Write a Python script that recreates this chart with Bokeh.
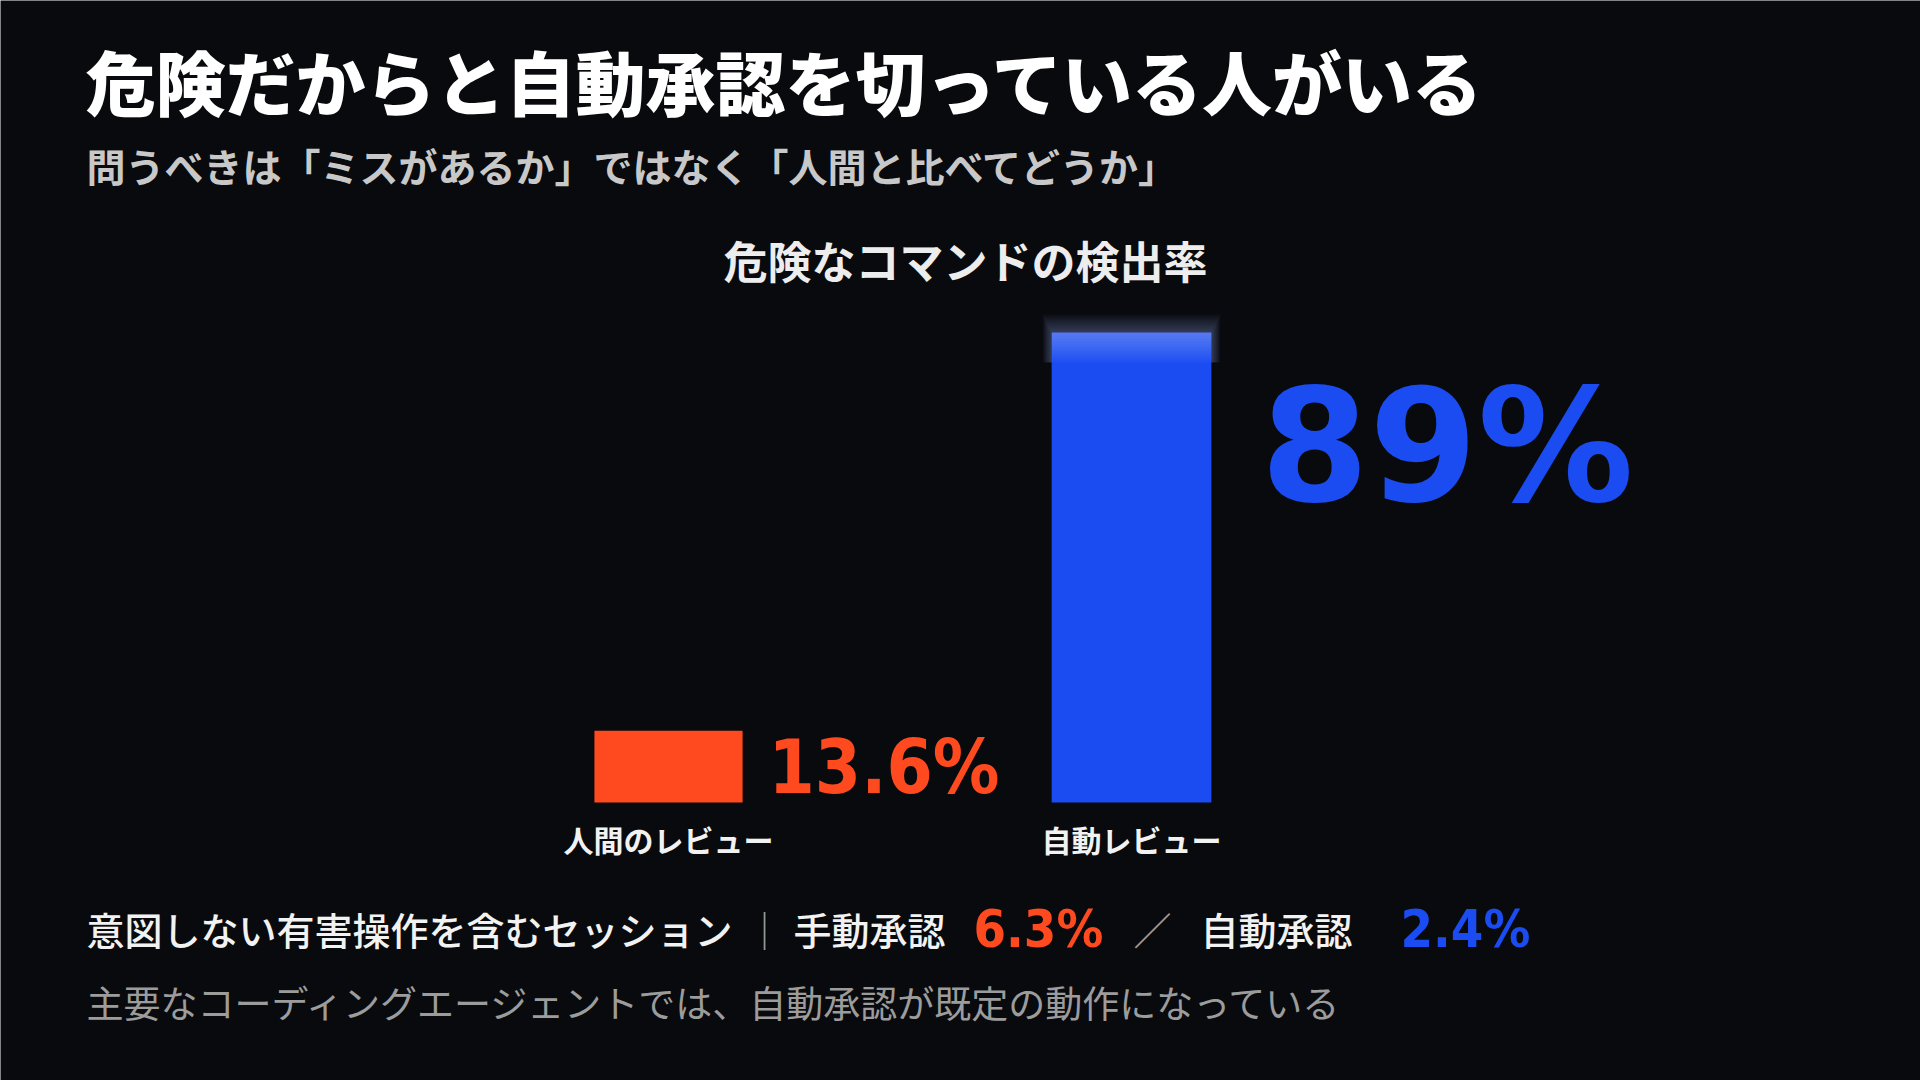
from bokeh.plotting import figure
from bokeh.models import Range1d, Label, ColumnDataSource
from bokeh.core.properties import value
from bokeh.embed import file_html
from bokeh.resources import INLINE

# ---------------- data ----------------
title_text = "危険だからと自動承認を切っている人がいる"
subtitle_text = "問うべきは「ミスがあるか」ではなく「人間と比べてどうか」"
chart_title = "危険なコマンドの検出率"
categories = ["人間のレビュー", "自動レビュー"]
detection_rate = [13.6, 89.0]
rate_labels = ["13.6%", "89%"]
session_caption = "意図しない有害操作を含むセッション"
session_modes = ["手動承認", "自動承認"]
session_rate = [6.3, 2.4]
session_rate_labels = ["6.3%", "2.4%"]
footnote_text = "主要なコーディングエージェントでは、自動承認が既定の動作になっている"

# ---------------- style ----------------
W, H = 1920, 1080
BG = "#090a0d"
ORANGE = "#ff4a1f"
BLUE = "#1a4cf2"
PX_PER_UNIT_X = 463.0
PX_PER_PCT = 5.281

JP = "'Noto Sans CJK JP'"
JP_BLACK = "'Noto Sans CJK JP Black', 'Noto Sans CJK JP'"
JP_MED = "'Noto Sans CJK JP Medium', 'Noto Sans CJK JP'"
NUM = "'DejaVu Sans'"
NUM_C = "'DejaVu Sans Condensed', 'DejaVu Sans'"

x_idx = list(range(len(categories)))
bar_widths = [0.32, 0.345]
bar_colors = [ORANGE, BLUE]

p = figure(width=W, height=H, output_backend="svg", toolbar_location=None,
           x_range=Range1d(-1.4428, 2.7041), y_range=Range1d(-52.64, 151.86),
           x_axis_type=None, y_axis_type=None, min_border=0,
           background_fill_color=BG, border_fill_color=BG, outline_line_color=None)
p.grid.visible = False

# soft glow above the automatic-review bar
for k in range(1, 10):
    grow = 2 * k
    p.vbar(x=[x_idx[1]], top=[detection_rate[1] + grow / PX_PER_PCT],
           bottom=[detection_rate[1] - 30 / PX_PER_PCT],
           width=bar_widths[1] + 2 * grow * 0.5 / PX_PER_UNIT_X,
           fill_color="#9fbcff", fill_alpha=0.04, line_color=None)

src = ColumnDataSource(dict(x=x_idx, top=detection_rate, w=bar_widths, c=bar_colors,
                            cat=categories, lab=rate_labels))
p.vbar(x="x", top="top", bottom=0, width="w", fill_color="c", line_color=None, source=src)

# light gradient band at top of the blue bar
for k in range(1, 11):
    depth = 3 * k
    p.vbar(x=[x_idx[1]], top=[detection_rate[1]],
           bottom=[detection_rate[1] - depth / PX_PER_PCT],
           width=bar_widths[1], fill_color="#ffffff", fill_alpha=0.03, line_color=None)

# category labels
p.text(x="x", y=0, text="cat", source=src, y_offset=37, text_align="center",
       text_baseline="middle", text_color="#f2f2f2", text_font=value(JP),
       text_font_style="bold", text_font_size="30px")

# value labels
p.text(x=[x_idx[0]], y=[detection_rate[0]], text=[rate_labels[0]], x_offset=100, y_offset=36,
       text_align="left", text_baseline="alphabetic", text_color=ORANGE,
       text_font=value(NUM_C), text_font_style="bold", text_font_size="74px")
p.text(x=[x_idx[1]], y=[detection_rate[1]], text=[rate_labels[1]], x_offset=129, y_offset=115,
       text_align="left", text_baseline="alphabetic", text_color=BLUE,
       text_font=value(NUM), text_font_style="bold", text_font_size="156px")


def lab(text, x, y_from_top, size, color, font, style="normal", align="left"):
    p.add_layout(Label(x=x, y=H - y_from_top, x_units="screen", y_units="screen",
                       text=text, text_align=align, text_baseline="middle",
                       text_color=color, text_font=font, text_font_style=style,
                       text_font_size=f"{size}px"))


lab(title_text, 85, 80, 70, "#ffffff", JP_BLACK, "bold")
lab(subtitle_text, 86, 164, 39, "#c8c8c8", JP, "bold")
lab(chart_title, 965, 259, 44, "#ededed", JP, "bold", "center")

row_y = 928
lab(session_caption, 86, row_y, 38, "#f2f2f2", JP_MED)
lab("｜", 745, row_y, 38, "#9a9a9a", JP)
lab(session_modes[0], 793, row_y, 38, "#f2f2f2", JP_MED)
lab(session_rate_labels[0], 973, row_y, 52, ORANGE, NUM_C, "bold")
lab("／", 1133, row_y, 38, "#9a9a9a", JP)
lab(session_modes[1], 1200, row_y, 38, "#f2f2f2", JP_MED)
lab(session_rate_labels[1], 1400, row_y, 52, BLUE, NUM_C, "bold")

lab(footnote_text, 86, 1001, 37, "#9c9c9c", JP)

open("out.html", "w").write(file_html(p, INLINE))
